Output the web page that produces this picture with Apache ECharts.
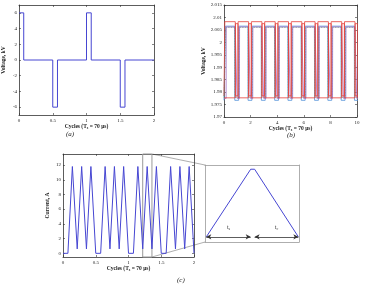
<!DOCTYPE html>
<html>
<head>
<meta charset="utf-8">
<script src="https://cdn.jsdelivr.net/npm/echarts@6/dist/echarts.min.js"></script>
<style>
html, body { margin: 0; padding: 0; background: #fff; }
#main { width: 365px; height: 287px; }
</style>
</head>
<body>
<div id="main"></div>
<script>
// (a) bipolar pulse voltage, kV
const pulseX = [0, 0.07, 0.07, 0.5, 0.5, 0.57, 0.57, 1.0, 1.0, 1.07, 1.07, 1.5, 1.5, 1.57, 1.57, 2.0]
const pulseY = [6, 6, 0, 0, -6, -6, 0, 0, 6, 6, 0, 0, -6, -6, 0, 0]

// (b) capacitor voltages, kV; rising / falling edge times in cycles
const cellUp = [
  [0.05, 1.05, 2.05, 3.05, 4.05, 5.05, 6.05, 7.05, 8.05, 9.05],
  [0.85, 1.85, 2.85, 3.85, 4.85, 5.85, 6.85, 7.85, 8.85, 9.85],
  [0.1, 1.1, 2.1, 3.1, 4.1, 5.1, 6.1, 7.1, 8.1, 9.1],
  [0.13, 1.13, 2.13, 3.13, 4.13, 5.13, 6.13, 7.13, 8.13, 9.13],
  [0.16, 1.16, 2.16, 3.16, 4.16, 5.16, 6.16, 7.16, 8.16, 9.16]
]
const cellDown = [
  [0.85, 1.85, 2.85, 3.85, 4.85, 5.85, 6.85, 7.85, 8.85, 9.85],
  [1.05, 2.05, 3.05, 4.05, 5.05, 6.05, 7.05, 8.05, 9.05, 10.05],
  [0.8, 1.8, 2.8, 3.8, 4.8, 5.8, 6.8, 7.8, 8.8, 9.8],
  [0.82, 1.82, 2.82, 3.82, 4.82, 5.82, 6.82, 7.82, 8.82, 9.82],
  [0.84, 1.84, 2.84, 3.84, 4.84, 5.84, 6.84, 7.84, 8.84, 9.84]
]
const cellHigh = [2.0083, 2.0075, 2.0065, 2.006, 2.0062]
const cellLow = [1.9785, 1.9777, 1.9767, 1.9779, 1.9775]
const cellFall = [0.01, 0.01, 0.01, 0.01, 0.14]
const cellColors = ['#e5413b', '#e5413b', '#4f8fd8', '#52a060', '#a070c8']
const cellDash = ['solid', 'solid', 'solid', 'dotted', 'solid']

// (c) inductor current, A
const currentX = [0, 0.075, 0.143, 0.149, 0.217, 0.285, 0.291, 0.358, 0.426, 0.432, 0.5,
  0.575, 0.643, 0.649, 0.717, 0.785, 0.791, 0.858, 0.926, 0.932, 1.0,
  1.075, 1.143, 1.149, 1.217, 1.285, 1.291, 1.358, 1.426, 1.432, 1.5,
  1.575, 1.643, 1.649, 1.717, 1.785, 1.791, 1.858, 1.926, 1.932, 2.0]
const currentY = [0, 0, 11.8, 11.8, 0.6, 11.8, 11.8, 0.6, 11.8, 11.8, 0,
  0, 11.8, 11.8, 0.6, 11.8, 11.8, 0.6, 11.8, 11.8, 0,
  0, 11.8, 11.8, 0.6, 11.8, 11.8, 0.6, 11.8, 11.8, 0,
  0, 11.8, 11.8, 0.6, 11.8, 11.8, 0.6, 11.8, 11.8, 0]
const zoomFrom = 1.217
const zoomTo = 1.358
const zoomPeak = [1.285, 1.291]
const zoomLabels = ['t', 't']
const zoomSubs = ['s', 'c']

const ticksA = { x: [0, 0.5, 1, 1.5, 2], y: [-6, -4, -2, 0, 2, 4, 6] }
const ticksB = { x: [0, 2, 4, 6, 8, 10], y: [1.97, 1.975, 1.98, 1.985, 1.99, 1.995, 2, 2.005, 2.01, 2.015] }
const ticksC = { x: [0, 0.5, 1, 1.5, 2], y: [0, 2, 4, 6, 8, 10, 12] }

const lineBlue = '#4646d2'
const font = 'Liberation Serif'
const cyclesName = 'Cycles (T{sub|s} = 70 μs)'

function pairs (xs, ys) {
  return xs.map((x, i) => [x, ys[i]])
}

// step trace of one cell from its edge times (clipped to the 0..10 window by the axis)
function cellTrace (k) {
  const hi = cellHigh[k]
  const lo = cellLow[k]
  const startHigh = cellDown[k][0] < cellUp[k][0]
  const out = [[0, startHigh ? hi : lo]]
  const edges = []
  cellUp[k].forEach(t => edges.push({ t, up: true }))
  cellDown[k].forEach(t => edges.push({ t, up: false }))
  edges.sort((a, b) => a.t - b.t)
  edges.forEach(e => {
    if (e.up) {
      out.push([e.t, lo])
      out.push([e.t + 0.01, hi])
    } else {
      out.push([e.t, hi])
      out.push([e.t + cellFall[k], lo])
    }
  })
  const last = edges[edges.length - 1]
  out.push([10.2, last.up ? hi : lo])
  return out
}

function boxAxes (grid, xr, yr, ticks, xName, yName, yFmt, show, frame) {
  const tickStyle = { show: show, inside: true, length: 2, lineStyle: { color: '#333', width: 0.6 } }
  const lineStyle = { show: true, onZero: false, lineStyle: { color: frame, width: 0.8 } }
  const labelStyle = { fontFamily: font, fontSize: 5, color: '#222' }
  const nameStyle = {
    fontFamily: font, fontSize: 5.5, fontWeight: 'bold', color: '#222',
    rich: { sub: { fontFamily: font, fontSize: 4, fontWeight: 'bold', padding: [3, 0, 0, 0] } }
  }
  const xs = [
    {
      type: 'value', gridIndex: grid, min: xr[0], max: xr[1], position: 'bottom',
      name: xName, nameLocation: 'middle', nameGap: 8, nameTextStyle: nameStyle,
      axisLine: lineStyle, splitLine: { show: false },
      axisTick: Object.assign({ customValues: ticks ? ticks.x : [] }, tickStyle),
      axisLabel: Object.assign({ show: show, margin: 3, customValues: ticks ? ticks.x : [] }, labelStyle)
    },
    {
      type: 'value', gridIndex: grid, min: xr[0], max: xr[1], position: 'top',
      axisLine: lineStyle, splitLine: { show: false },
      axisTick: Object.assign({ customValues: ticks ? ticks.x : [] }, tickStyle),
      axisLabel: { show: false }
    }
  ]
  const ys = [
    {
      type: 'value', gridIndex: grid, min: yr[0], max: yr[1], position: 'left',
      name: yName, nameLocation: 'middle', nameRotate: 90, nameGap: yName ? 12 : 0, nameTextStyle: nameStyle,
      axisLine: lineStyle, splitLine: { show: false },
      axisTick: Object.assign({ customValues: ticks ? ticks.y : [] }, tickStyle),
      axisLabel: Object.assign({ show: show, margin: 2, customValues: ticks ? ticks.y : [], formatter: yFmt }, labelStyle)
    },
    {
      type: 'value', gridIndex: grid, min: yr[0], max: yr[1], position: 'right',
      axisLine: lineStyle, splitLine: { show: false },
      axisTick: Object.assign({ customValues: ticks ? ticks.y : [] }, tickStyle),
      axisLabel: { show: false }
    }
  ]
  return { xs, ys }
}

const axA = boxAxes(0, [0, 2], [-7, 7], ticksA, cyclesName, 'Voltage, kV', v => String(v), true, '#333')
const axB = boxAxes(1, [0, 10], [1.97, 2.015], ticksB, cyclesName, 'Voltage, kV', v => String(+v.toFixed(3)), true, '#333')
const axC = boxAxes(2, [0, 2], [-0.5, 13.5], ticksC, cyclesName, 'Current, A', v => String(v), true, '#333')
const axI = boxAxes(3, [zoomFrom - 0.002, zoomTo + 0.001], [-0.25, 12.5], null, '', '', null, false, '#999')

const myChart = echarts.init(document.getElementById('main'), null, { renderer: 'canvas' })

const series = []
series.push({
  type: 'line', xAxisIndex: 0, yAxisIndex: 0, showSymbol: false, animation: false,
  lineStyle: { color: lineBlue, width: 1 }, data: pairs(pulseX, pulseY)
})
cellColors.forEach((c, k) => {
  series.push({
    type: 'line', xAxisIndex: 2, yAxisIndex: 2, showSymbol: false, animation: false, clip: true,
    lineStyle: { color: c, width: 0.8, type: cellDash[k] }, data: cellTrace(k), z: k === 0 || k === 1 ? 3 : 2
  })
})
series.push({
  type: 'line', xAxisIndex: 4, yAxisIndex: 4, showSymbol: false, animation: false,
  lineStyle: { color: lineBlue, width: 1 }, data: pairs(currentX, currentY),
  markArea: {
    silent: true,
    itemStyle: { color: 'rgba(0,0,0,0)', borderColor: '#999', borderWidth: 1 },
    data: [[{ coord: [zoomFrom, -0.5] }, { coord: [zoomTo, 13.5] }]]
  }
})
const insetData = pairs(currentX, currentY).filter(p => p[0] >= zoomFrom - 0.001 && p[0] <= zoomTo + 0.001)
series.push({
  type: 'line', xAxisIndex: 6, yAxisIndex: 6, showSymbol: false, animation: false,
  lineStyle: { color: lineBlue, width: 1 }, data: insetData,
  markLine: {
    silent: true, animation: false,
    symbol: ['arrow', 'arrow'], symbolSize: [4, 5],
    lineStyle: { color: '#333', width: 0.8, type: 'solid' },
    label: {
      position: 'insideMiddleTop', distance: 6, fontFamily: font, fontSize: 6, color: '#333',
      rich: { sub: { fontFamily: font, fontSize: 4, padding: [3, 0, 0, 0] } }
    },
    data: [
      [{ coord: [zoomFrom, 0.6], label: { formatter: zoomLabels[0] + '{sub|' + zoomSubs[0] + '}' } }, { coord: [zoomPeak[0], 0.6] }],
      [{ coord: [zoomPeak[1], 0.6], label: { formatter: zoomLabels[1] + '{sub|' + zoomSubs[1] + '}' } }, { coord: [zoomTo, 0.6] }]
    ]
  }
})

const option = {
  animation: false,
  grid: [
    { left: 14, top: 5, width: 140, height: 110 },
    { left: 224, top: 5, width: 133, height: 112 },
    { left: 63, top: 154, width: 131, height: 103 },
    { left: 205, top: 165, width: 94, height: 77 }
  ],
  xAxis: [...axA.xs, ...axB.xs, ...axC.xs, ...axI.xs],
  yAxis: [...axA.ys, ...axB.ys, ...axC.ys, ...axI.ys],
  series: series
}

myChart.setOption(option)

// panel captions and the lines joining the zoom box to the inset
const capStyle = { fontFamily: font, fontSize: 7, fontStyle: 'italic', fill: '#222' }
const p1 = myChart.convertToPixel({ gridIndex: 2 }, [zoomTo, 13.5])
const p2 = myChart.convertToPixel({ gridIndex: 2 }, [zoomTo, -0.5])
const q1 = myChart.convertToPixel({ gridIndex: 3 }, [zoomFrom - 0.002, 12.5])
const q2 = myChart.convertToPixel({ gridIndex: 3 }, [zoomFrom - 0.002, -0.25])
myChart.setOption({
  graphic: [
    { type: 'text', left: 66, top: 131, style: Object.assign({ text: '(a)' }, capStyle) },
    { type: 'text', left: 287, top: 132, style: Object.assign({ text: '(b)' }, capStyle) },
    { type: 'text', left: 177, top: 277, style: Object.assign({ text: '(c)' }, capStyle) },
    { type: 'line', shape: { x1: p1[0], y1: p1[1], x2: q1[0], y2: q1[1] }, style: { stroke: '#999', lineWidth: 0.8 } },
    { type: 'line', shape: { x1: p2[0], y1: p2[1], x2: q2[0], y2: q2[1] }, style: { stroke: '#999', lineWidth: 0.8 } }
  ]
})
window.addEventListener('resize', () => {
  myChart.resize()
})
</script>
</body>
</html>
